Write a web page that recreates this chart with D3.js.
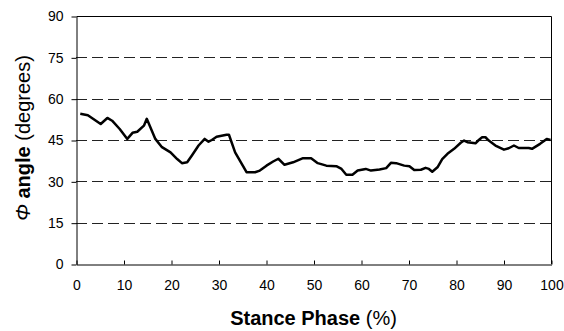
<!DOCTYPE html>
<html>
<head>
<meta charset="utf-8">
<script src="https://cdn.jsdelivr.net/npm/d3@7"></script>
<style>
  body { margin: 0; background: #fff; }
  text { font-family: "Liberation Sans", Arial, sans-serif; }
</style>
</head>
<body>
<div id="chart"></div>
<script>
const width = 564;
const height = 331;
const margin = {top: 16, right: 13, bottom: 67, left: 76};

// stance phase (%) and angle (degrees)
const phase = [0.9, 2.5, 5.2, 6.6, 7.6, 9.2, 10.8, 11.9, 12.9, 14.3, 14.9,
  16.7, 18.1, 19.9, 21.3, 22.3, 23.4, 24.4, 25.8, 27.1, 27.9, 28.6, 29.6,
  31.7, 32.2, 33.5, 34.9, 35.9, 37.7, 38.7, 40.1, 41.5, 42.6, 43.9, 45.7,
  47.8, 49.5, 50.9, 52.7, 54.8, 55.9, 56.9, 58.2, 59.3, 61.0, 62.1, 63.9,
  65.3, 66.3, 67.4, 69.1, 70.2, 71.2, 72.6, 73.6, 74.3, 75.0, 76.1, 77.1,
  78.2, 79.6, 81.0, 81.7, 82.4, 84.1, 84.8, 85.5, 86.2, 86.9, 88.3, 90.1,
  91.1, 92.2, 93.2, 95.3, 96.0, 97.7, 99.1, 99.9];
const angle = [54.5, 54.0, 50.8, 53.0, 52.0, 49.0, 45.4, 47.6, 48.0, 50.2, 52.7,
  45.4, 42.4, 40.5, 38.1, 36.6, 36.9, 39.4, 43.0, 45.4, 44.4, 45.0, 46.2,
  46.9, 46.9, 40.5, 36.3, 33.3, 33.3, 33.9, 35.7, 37.2, 38.2, 36.0, 36.9,
  38.4, 38.4, 36.6, 35.7, 35.5, 34.5, 32.4, 32.4, 33.9, 34.5, 33.9, 34.3,
  34.8, 36.7, 36.6, 35.7, 35.5, 34.1, 34.2, 34.9, 34.5, 33.5, 35.1, 38.1,
  40.0, 41.8, 44.0, 44.8, 44.2, 43.8, 45.0, 46.0, 46.0, 44.8, 43.0, 41.5,
  42.0, 43.0, 42.1, 42.1, 41.8, 43.6, 45.4, 45.0];

const xTicks = [0, 10, 20, 30, 40, 50, 60, 70, 80, 90, 100];
const yTicks = [0, 15, 30, 45, 60, 75, 90];

const points = phase.map((p, i) => ({p: p, a: angle[i]}));

const w = width - margin.left - margin.right;
const h = height - margin.top - margin.bottom;

const svg = d3.select("#chart")
    .append("svg")
    .attr("width", width)
    .attr("height", height);

const g = svg.append("g")
    .attr("transform", `translate(${margin.left},${margin.top})`);

const x = d3.scaleLinear().domain([0, 100]).range([0, w]);
const y = d3.scaleLinear().domain([0, 90]).range([h, 0]);

// dashed gridlines
g.append("g")
    .selectAll("line")
    .data(yTicks.filter(t => t > 0 && t < 90))
    .enter()
    .append("line")
    .attr("x1", 0)
    .attr("x2", w)
    .attr("y1", d => Math.round(y(d)) + 0.5)
    .attr("y2", d => Math.round(y(d)) + 0.5)
    .attr("stroke", "#222")
    .attr("stroke-width", 1)
    .attr("stroke-dasharray", "11,5");

// frame top and right
g.append("path")
    .attr("d", `M0.5,0.5H${w + 0.5}V${h}`)
    .attr("fill", "none")
    .attr("stroke", "#000");

// x axis, ticks pointing up
const xAxis = g.append("g")
    .attr("transform", `translate(0.5,${h + 0.5})`)
    .call(d3.axisBottom(x).tickValues(xTicks).tickSizeInner(-4).tickSizeOuter(0).tickPadding(16));
xAxis.select(".domain").attr("stroke", "#000");
xAxis.selectAll(".tick line").attr("stroke", "#000");
xAxis.selectAll("text").attr("font-size", 14).attr("fill", "#000");

// y axis, ticks pointing out
const yAxis = g.append("g")
    .attr("transform", "translate(0.5,0.5)")
    .call(d3.axisLeft(y).tickValues(yTicks).tickSizeInner(5).tickSizeOuter(0).tickPadding(8));
yAxis.select(".domain").attr("stroke", "#000");
yAxis.selectAll(".tick line").attr("stroke", "#000");
yAxis.selectAll("text").attr("font-size", 14).attr("fill", "#000");

// data line
const line = d3.line()
    .x(d => x(d.p))
    .y(d => y(d.a));

g.append("path")
    .datum(points)
    .attr("d", line)
    .attr("fill", "none")
    .attr("stroke", "#000")
    .attr("stroke-width", 2.5)
    .attr("stroke-linejoin", "round");

// x title
const xt = svg.append("text")
    .attr("x", margin.left + w / 2)
    .attr("y", 325)
    .attr("text-anchor", "middle")
    .attr("font-size", 20);
xt.append("tspan").attr("font-weight", "bold").text("Stance Phase ");
xt.append("tspan").text("(%)");

// y title
const yt = svg.append("text")
    .attr("transform", `translate(30,${margin.top + h / 2 - 2}) rotate(-90)`)
    .attr("text-anchor", "middle")
    .attr("font-size", 20);
yt.append("tspan").attr("font-style", "italic").text("Φ");
yt.append("tspan").attr("font-weight", "bold").text(" angle ");
yt.append("tspan").text("(degrees)");
</script>
</body>
</html>
